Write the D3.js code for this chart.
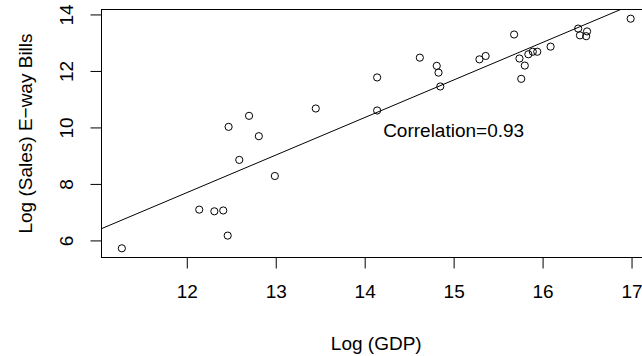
<!DOCTYPE html>
<html lang="en">
<head>
	<meta charset="utf-8">
	<title>Log GDP vs Log E-way Bills</title>
	<script src="https://d3js.org/d3.v7.min.js"></script>
	<style>
		body {
			margin: 0;
			background: #fff;
		}

		svg text {
			font-family: "Liberation Sans", Arial, Helvetica, sans-serif;
			font-size: 19px;
			fill: #000;
		}
	</style>
</head>
<body>
	<script>
		//one point per state: log GDP against log value of e-way bills
		var logGDP = [11.27, 12.14, 12.31, 12.41, 12.46, 12.70, 12.47, 12.81, 12.59, 12.99,
			13.45, 14.14, 14.14, 14.62, 14.81, 14.83, 14.85, 15.29, 15.36, 15.68,
			15.74, 15.80, 15.76, 15.84, 15.89, 15.94, 16.09, 16.40, 16.42, 16.50,
			16.49, 16.99];
		var logSales = [5.72, 7.09, 7.03, 7.06, 6.17, 10.41, 10.02, 9.69, 8.85, 8.28,
			10.67, 11.77, 10.60, 12.47, 12.18, 11.94, 11.45, 12.41, 12.53, 13.29,
			12.44, 12.19, 11.72, 12.59, 12.68, 12.68, 12.86, 13.50, 13.26, 13.40,
			13.23, 13.85];

		var xTicks = [12, 13, 14, 15, 16, 17];
		var yTicks = [6, 8, 10, 12, 14];
		var corrText = "Correlation=0.93";
		var corrPos = [15, 9.9];

		var w = 642;
		var h = 356;
		//plot region (note: "top" would clash with window.top)
		var mLeft = 101.5, mTop = 9.5, pw = 549.5, ph = 248;

		//R style axis range: data extent padded by 4% each side
		function padded(v) {
			var e = d3.extent(v);
			var p = (e[1] - e[0]) * 0.04;
			return [e[0] - p, e[1] + p];
		}

		var xScale = d3.scaleLinear().domain(padded(logGDP)).range([mLeft, mLeft + pw]);
		var yScale = d3.scaleLinear().domain(padded(logSales)).range([mTop + ph, mTop]);

		var svg = d3.select("body")
			.append("svg")
			.attr("width", w)
			.attr("height", h);

		svg.append("defs").append("clipPath")
			.attr("id", "plotClip")
			.append("rect")
			.attr("x", mLeft)
			.attr("y", mTop)
			.attr("width", pw)
			.attr("height", ph);

		//least squares line through the points
		var mx = d3.mean(logGDP), my = d3.mean(logSales);
		var sxy = d3.sum(logGDP, function (d, i) { return (d - mx) * (logSales[i] - my); });
		var sxx = d3.sum(logGDP, function (d) { return (d - mx) * (d - mx); });
		var slope = sxy / sxx;
		var icept = my - slope * mx;
		var xd = xScale.domain();

		svg.append("line")
			.attr("clip-path", "url(#plotClip)")
			.attr("x1", xScale(xd[0]))
			.attr("y1", yScale(icept + slope * xd[0]))
			.attr("x2", xScale(xd[1]))
			.attr("y2", yScale(icept + slope * xd[1]))
			.attr("stroke", "#000")
			.attr("stroke-width", 1);

		svg.selectAll("circle")
			.data(logGDP)
			.enter()
			.append("circle")
			.attr("cx", function (d) { return xScale(d); })
			.attr("cy", function (d, i) { return yScale(logSales[i]); })
			.attr("r", 3.6)
			.attr("fill", "none")
			.attr("stroke", "#000")
			.attr("stroke-width", 1);

		//plot box
		svg.append("rect")
			.attr("x", mLeft)
			.attr("y", mTop)
			.attr("width", pw)
			.attr("height", ph)
			.attr("fill", "none")
			.attr("stroke", "#000")
			.attr("stroke-width", 1);

		//axes
		var xAxis = d3.axisBottom(xScale).tickValues(xTicks).tickFormat(d3.format("d"))
			.tickSize(11).tickPadding(16).tickSizeOuter(0);
		var gx = svg.append("g")
			.attr("transform", "translate(0," + (mTop + ph) + ")")
			.call(xAxis);
		gx.select(".domain").remove();
		gx.selectAll("text").attr("font-size", null).attr("font-family", null);

		var yAxis = d3.axisLeft(yScale).tickValues(yTicks).tickFormat(d3.format("d"))
			.tickSize(11).tickSizeOuter(0);
		var gy = svg.append("g")
			.attr("transform", "translate(" + mLeft + ",0)")
			.call(yAxis);
		gy.select(".domain").remove();
		gy.selectAll("text")
			.attr("font-size", null)
			.attr("font-family", null)
			.attr("x", null)
			.attr("dy", null)
			.attr("text-anchor", "middle")
			.attr("transform", "translate(" + (72.5 - mLeft) + ",0)rotate(-90)");

		//axis titles
		svg.append("text")
			.attr("text-anchor", "middle")
			.attr("x", mLeft + pw / 2)
			.attr("y", 350)
			.text("Log (GDP)");

		svg.append("text")
			.attr("text-anchor", "middle")
			.attr("transform", "translate(32," + (mTop + ph / 2) + ")rotate(-90)")
			.text("Log (Sales) E\u2212way Bills");

		svg.append("text")
			.attr("text-anchor", "middle")
			.attr("x", xScale(corrPos[0]))
			.attr("y", yScale(corrPos[1]) + 6.8)
			.text(corrText);
	</script>
</body>
</html>
